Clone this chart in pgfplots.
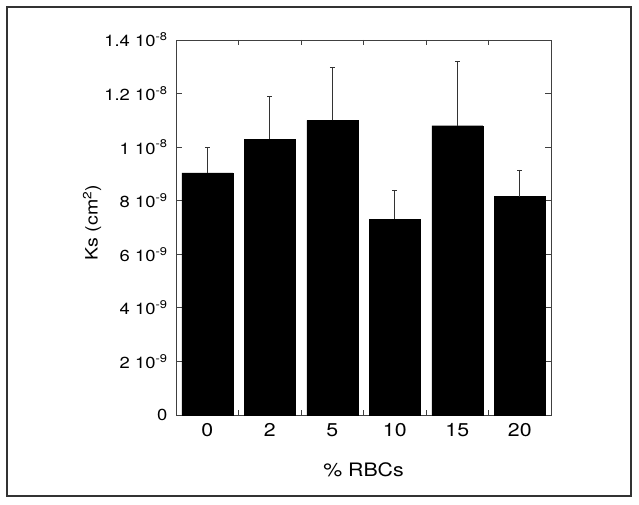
\documentclass[border=0pt]{standalone}
\usepackage{pgfplots}
\pgfplotsset{compat=1.18}
\usepackage{fontspec}
\setmainfont[FakeStretch=1.15]{TeX Gyre Heros}
\begin{document}
\begin{tikzpicture}
\path (0pt,0pt) rectangle (639pt,504pt);
\draw[line width=1.4pt, black!80] (7pt,8pt) rectangle (631pt,497pt);
\begin{axis}[
    at={(176pt,89pt)}, anchor=south west,
    width=375pt, height=375pt, scale only axis,
    xmin=-0.5, xmax=5.5,
    ymin=0, ymax=14,
    axis line style={black!75, line width=0.8pt},
    xtick={0,1,2,3,4,5},
    xticklabels={0,2,5,10,15,20},
    major x tick style={draw=none},
    minor xtick={0.5,1.5,2.5,3.5,4.5},
    minor tick length=5pt,
    minor tick style={black!75, line width=0.8pt},
    ytick={0,2,4,6,8,10,12,14},
    yticklabels={0, 2 10\textsuperscript{-9}, 4 10\textsuperscript{-9}, 6 10\textsuperscript{-9}, 8 10\textsuperscript{-9}, 1 10\textsuperscript{-8}, 1.2 10\textsuperscript{-8}, 1.4 10\textsuperscript{-8}},
    major tick length=6pt,
    major y tick style={black!75, line width=0.8pt},
    tick align=inside,
    x tick label style={font=\fontsize{18.5}{20}\selectfont, yshift=-5pt},
    y tick label style={font=\fontsize{16}{18}\selectfont, xshift=-5pt},
    xlabel={\% RBCs},
    ylabel={Ks (cm\textsuperscript{2})},
    every axis x label/.style={font=\fontsize{18.5}{20}\selectfont, at={(axis description cs:0.5,-0.147)}, anchor=center},
    every axis y label/.style={font=\fontsize{17}{18}\selectfont, at={(axis description cs:-0.224,0.513)}, rotate=90, anchor=center},
]
\addplot[ybar, bar width=51pt, fill=black, draw=black,
    error bars/.cd, y dir=plus, y explicit,
    error bar style={black!80, line width=0.8pt},
    error mark options={black!80, line width=0.8pt, mark size=2.5pt, rotate=90}]
    coordinates {
    (0,9.04) +- (0,0.95)
    (1,10.3) +- (0,1.6)
    (2,11.0) +- (0,1.97)
    (3,7.31) +- (0,1.09)
    (4,10.8) +- (0,2.4)
    (5,8.15) +- (0,1.0)
};
\end{axis}
\end{tikzpicture}
\end{document}
